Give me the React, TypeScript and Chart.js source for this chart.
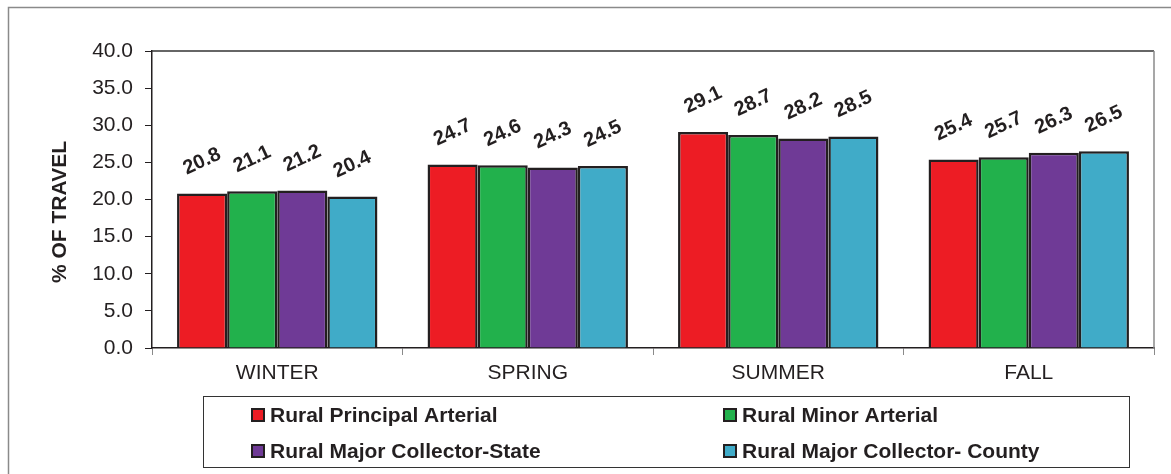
import React, { useEffect, useRef } from "react";
import { Chart, registerables } from "chart.js";

Chart.register(...registerables);

const categories = ["WINTER", "SPRING", "SUMMER", "FALL"];
const seriesNames = [
  "Rural Principal Arterial",
  "Rural Minor Arterial",
  "Rural Major Collector-State",
  "Rural Major Collector- County",
];
const principalArterial = [20.8, 24.7, 29.1, 25.4];
const minorArterial = [21.1, 24.6, 28.7, 25.7];
const majorCollectorState = [21.2, 24.3, 28.2, 26.3];
const majorCollectorCounty = [20.4, 24.5, 28.5, 26.5];
const seriesColors = ["#ED1C24", "#22B14C", "#6F3A96", "#40ABC8"];
const yTicks = [0, 5, 10, 15, 20, 25, 30, 35, 40];
const yTitle = "% OF TRAVEL";

const FONT = "'Liberation Sans', Arial, sans-serif";
const INK = "#231f20";

const framePlugin = {
  id: "frame",
  beforeDraw(chart: any) {
    const ctx = chart.ctx;
    ctx.save();
    ctx.fillStyle = "#ffffff";
    ctx.fillRect(0, 0, chart.width, chart.height);
    ctx.strokeStyle = "#8a8a8a";
    ctx.lineWidth = 1.5;
    ctx.strokeRect(8.5, 7.5, 3000, 3000);
    ctx.restore();
  },
  afterDraw(chart: any) {
    const { ctx, chartArea } = chart;
    ctx.save();
    ctx.lineWidth = 1.5;
    ctx.strokeStyle = "#333333";
    ctx.beginPath();
    ctx.moveTo(chartArea.left, chartArea.top);
    ctx.lineTo(chartArea.right, chartArea.top);
    ctx.stroke();
    ctx.strokeStyle = "#8a8a8a";
    ctx.beginPath();
    ctx.moveTo(chartArea.right, chartArea.top);
    ctx.lineTo(chartArea.right, chartArea.bottom);
    ctx.stroke();
    // y axis title
    ctx.font = `bold 21px ${FONT}`;
    ctx.fillStyle = INK;
    ctx.textAlign = "center";
    ctx.textBaseline = "middle";
    ctx.translate(60, 212);
    ctx.rotate(-Math.PI / 2);
    ctx.fillText(yTitle, 0, 0);
    ctx.restore();
  },
};

const valueLabelPlugin = {
  id: "valueLabels",
  afterDatasetsDraw(chart: any) {
    const ctx = chart.ctx;
    ctx.save();
    ctx.font = `bold 20px ${FONT}`;
    ctx.fillStyle = INK;
    ctx.textAlign = "center";
    ctx.textBaseline = "middle";
    chart.data.datasets.forEach((ds: any, i: number) => {
      const meta = chart.getDatasetMeta(i);
      meta.data.forEach((el: any, j: number) => {
        const v = ds.data[j];
        ctx.save();
        ctx.translate(el.x, el.y - 32);
        ctx.rotate((-25 * Math.PI) / 180);
        ctx.fillText(Number(v).toFixed(1), 0, 0);
        ctx.restore();
      });
    });
    ctx.restore();
  },
};

const legendPlugin = {
  id: "customLegend",
  afterDraw(chart: any) {
    const ctx = chart.ctx;
    ctx.save();
    ctx.strokeStyle = "#333333";
    ctx.lineWidth = 1;
    ctx.strokeRect(203.5, 396.5, 926, 71);
    ctx.font = `bold 21px ${FONT}`;
    ctx.textBaseline = "middle";
    ctx.textAlign = "left";
    const colX = [252, 724];
    const rowY = [415, 451];
    chart.data.datasets.forEach((ds: any, i: number) => {
      const x = colX[i % 2];
      const y = rowY[Math.floor(i / 2)];
      ctx.fillStyle = ds.backgroundColor;
      ctx.fillRect(x, y - 6, 12, 12);
      ctx.strokeStyle = INK;
      ctx.lineWidth = 2;
      ctx.strokeRect(x, y - 6, 12, 12);
      ctx.fillStyle = INK;
      ctx.fillText(ds.label, x + 18, y + 1);
    });
    ctx.restore();
  },
};

export default function App() {
  const ref = useRef<HTMLCanvasElement>(null);

  useEffect(() => {
    if (!ref.current) return;
    const values = [principalArterial, minorArterial, majorCollectorState, majorCollectorCounty];
    const chart = new Chart(ref.current, {
      type: "bar",
      data: {
        labels: categories,
        datasets: values.map((d, i) => ({
          label: seriesNames[i],
          data: d,
          backgroundColor: seriesColors[i],
          borderColor: INK,
          borderWidth: 2.5,
          categoryPercentage: 0.8,
          barPercentage: 1.0,
        })),
      },
      options: {
        animation: false,
        responsive: false,
        layout: { padding: { left: 46, top: 51, right: 17, bottom: 86 } },
        plugins: {
          legend: { display: false },
          tooltip: { enabled: false },
        },
        scales: {
          x: {
            afterFit(scale: any) {
              scale.height = 40;
            },
            grid: {
              offset: true,
              drawOnChartArea: false,
              drawTicks: true,
              tickLength: 7,
              color: "#8a8a8a",
            },
            border: { display: true, color: INK, width: 1.5 },
            ticks: {
              color: INK,
              font: { family: FONT, size: 21 },
              padding: 6,
              maxRotation: 0,
            },
          },
          y: {
            min: 0,
            max: 40,
            afterFit(scale: any) {
              scale.width = 106;
            },
            afterBuildTicks(scale: any) {
              scale.ticks = yTicks.map((v) => ({ value: v }));
            },
            grid: {
              drawOnChartArea: false,
              drawTicks: true,
              tickLength: 7,
              color: INK,
            },
            border: { display: true, color: INK, width: 1.5 },
            ticks: {
              color: INK,
              font: { family: FONT, size: 21 },
              padding: 12,
              callback: (v: any) => Number(v).toFixed(1),
            },
          },
        },
      },
      plugins: [framePlugin, valueLabelPlugin, legendPlugin],
    } as any);
    return () => chart.destroy();
  }, []);

  return (
    <div style={{ position: "absolute", left: 0, top: 0, width: 1171, height: 474 }}>
      <canvas ref={ref} width={1171} height={474} style={{ display: "block" }} />
    </div>
  );
}
